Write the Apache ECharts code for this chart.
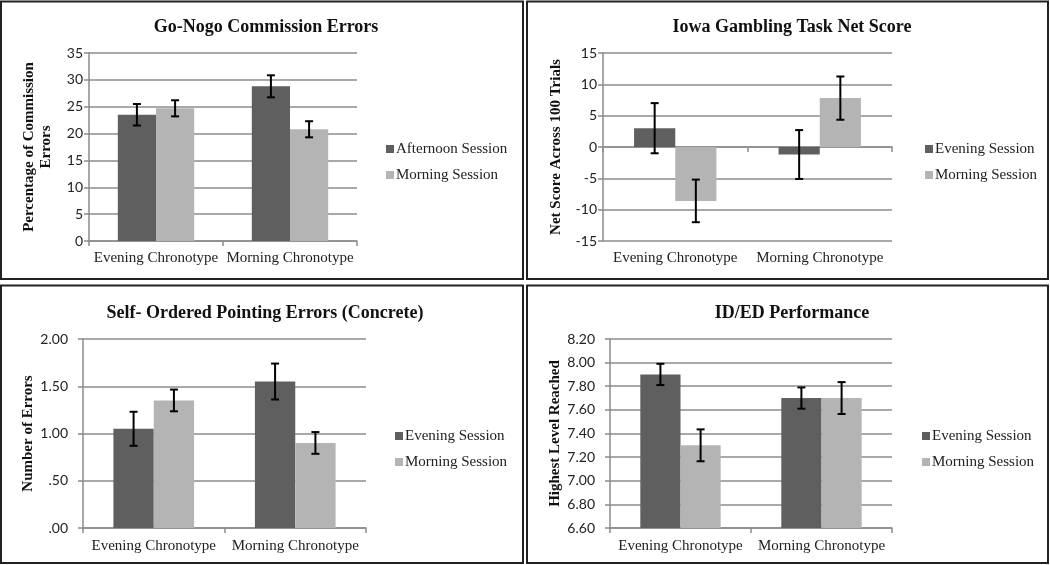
<!DOCTYPE html>
<html>
<head>
<meta charset="utf-8">
<script src="https://cdn.jsdelivr.net/npm/echarts@6/dist/echarts.min.js"></script>
<style>
html,body{margin:0;padding:0;background:#fff;}
#chart{width:1050px;height:565px;}
</style>
</head>
<body>
<div id="chart"></div>
<script>
// ---------- data ----------
const categories = ['Evening Chronotype', 'Morning Chronotype'];

const goNogoTitle = 'Go-Nogo Commission Errors';
const goNogoSeriesNames = ['Afternoon Session', 'Morning Session'];
const goNogoAfternoon = [23.5, 28.8];
const goNogoMorning = [24.7, 20.8];
const goNogoAfternoonErr = [2.0, 2.05];
const goNogoMorningErr = [1.5, 1.5];
const goNogoTicks = [0, 35, 5];

const iowaTitle = 'Iowa Gambling Task Net Score';
const iowaSeriesNames = ['Evening Session', 'Morning Session'];
const iowaEvening = [3.0, -1.2];
const iowaMorning = [-8.6, 7.8];
const iowaEveningErr = [4.0, 3.9];
const iowaMorningErr = [3.4, 3.45];
const iowaTicks = [-15, 15, 5];

const sopTitle = 'Self- Ordered Pointing Errors (Concrete)';
const sopSeriesNames = ['Evening Session', 'Morning Session'];
const sopEvening = [1.05, 1.55];
const sopMorning = [1.35, 0.90];
const sopEveningErr = [0.18, 0.19];
const sopMorningErr = [0.115, 0.115];
const sopTicks = [0, 2, 0.5];

const idedTitle = 'ID/ED Performance';
const idedSeriesNames = ['Evening Session', 'Morning Session'];
const idedEvening = [7.90, 7.70];
const idedMorning = [7.30, 7.70];
const idedEveningErr = [0.09, 0.09];
const idedMorningErr = [0.135, 0.135];
const idedTicks = [6.6, 8.2, 0.2];

// ---------- layout / style ----------
const DARK = '#5f5f5f', LIGHT = '#b4b4b4', GRID = '#8c8c8c';
const SERIF = '"Liberation Serif", "Times New Roman", serif';
const SANS = 'Lato, "Open Sans", sans-serif';
const GAP = 0.43;

const panels = [
  {title: goNogoTitle, names: goNogoSeriesNames, a: goNogoAfternoon, b: goNogoMorning, ea: goNogoAfternoonErr, eb: goNogoMorningErr, ticks: goNogoTicks,
   yName: 'Percentage of Commission\nErrors', nameGap: 34, labelMargin: 6, fmt: v => String(v),
   grid: {left: 89, top: 53, width: 268, height: 188}, titleX: 261, titleTop: 13, legend: {left: 381, top: 135}, xMargin: 10, split: false},
  {title: iowaTitle, names: iowaSeriesNames, a: iowaEvening, b: iowaMorning, ea: iowaEveningErr, eb: iowaMorningErr, ticks: iowaTicks,
   yName: 'Net Score Across 100 Trials', nameGap: 38, labelMargin: 6, fmt: v => String(v),
   grid: {left: 603, top: 53, width: 289, height: 188}, titleX: 787, titleTop: 13, legend: {left: 920, top: 135}, xMargin: 10, split: true},
  {title: sopTitle, names: sopSeriesNames, a: sopEvening, b: sopMorning, ea: sopEveningErr, eb: sopMorningErr, ticks: sopTicks,
   yName: 'Number of Errors', nameGap: 45, labelMargin: 15, fmt: v => { const s = v.toFixed(2); return v < 1 ? s.slice(1) : s; },
   grid: {left: 83, top: 339, width: 283, height: 189}, titleX: 260, titleTop: 299, legend: {left: 390, top: 422}, xMargin: 11, split: false},
  {title: idedTitle, names: idedSeriesNames, a: idedEvening, b: idedMorning, ea: idedEveningErr, eb: idedMorningErr, ticks: idedTicks,
   yName: 'Highest Level Reached', nameGap: 45, labelMargin: 15, fmt: v => v.toFixed(2),
   grid: {left: 610, top: 339, width: 282, height: 189}, titleX: 787, titleTop: 299, legend: {left: 917, top: 422}, xMargin: 11, split: false}
];

const option = {
  animation: false,
  backgroundColor: '#fff',
  title: [], grid: [], xAxis: [], yAxis: [], legend: [], series: [],
  graphic: [
    {type: 'rect', shape: {x: 1, y: 1.5, width: 522, height: 277.5}, style: {fill: 'none', stroke: '#222', lineWidth: 2}},
    {type: 'rect', shape: {x: 527, y: 1.5, width: 521, height: 277.5}, style: {fill: 'none', stroke: '#222', lineWidth: 2}},
    {type: 'rect', shape: {x: 1, y: 285.5, width: 522, height: 277.5}, style: {fill: 'none', stroke: '#222', lineWidth: 2}},
    {type: 'rect', shape: {x: 527, y: 285.5, width: 521, height: 277.5}, style: {fill: 'none', stroke: '#222', lineWidth: 2}}
  ]
};

function gi_x(gi) {
  // x-axis index for the main axis of grid gi (panel 2 adds an extra label axis)
  let idx = 0;
  for (let k = 0; k < gi; k++) idx += panels[k].split ? 2 : 1;
  return idx;
}

function errSeries(xAxisIndex, yAxisIndex, side, vals, errs) {
  return {
    type: 'custom', xAxisIndex, yAxisIndex, z: 10, silent: true,
    data: vals.map((v, i) => [i, v - errs[i], v + errs[i]]),
    encode: {x: 0, y: [1, 2]},
    renderItem: function (params, api) {
      const band = api.size([1, 0])[0];
      const off = side * band * (1 - GAP) / 4;
      const lo = api.coord([api.value(0), api.value(1)]);
      const hi = api.coord([api.value(0), api.value(2)]);
      const x = lo[0] + off, cap = 4;
      const st = {stroke: '#000', lineWidth: 2};
      return {type: 'group', children: [
        {type: 'line', shape: {x1: x, y1: hi[1], x2: x, y2: lo[1]}, style: st},
        {type: 'line', shape: {x1: x - cap, y1: hi[1], x2: x + cap, y2: hi[1]}, style: st},
        {type: 'line', shape: {x1: x - cap, y1: lo[1], x2: x + cap, y2: lo[1]}, style: st}
      ]};
    }
  };
}

panels.forEach((p, gi) => {
  option.title.push({text: p.title, left: p.titleX, top: p.titleTop, textAlign: 'center',
    textStyle: {fontFamily: SERIF, fontWeight: 'bold', fontSize: 18, color: '#111'}});
  option.grid.push(Object.assign({}, p.grid));
  const axisLine = {show: true, lineStyle: {color: GRID, width: 1.5}};
  const mainX = gi_x(gi);
  const xLabel = {interval: 0, margin: p.xMargin, fontFamily: SERIF, fontSize: 15, color: '#222'};
  option.xAxis.push({
    type: 'category', gridIndex: gi, data: categories,
    axisLine: Object.assign({onZero: p.split}, axisLine),
    axisTick: {show: true, length: 5, lineStyle: {color: GRID, width: 1.5}},
    axisLabel: Object.assign({show: !p.split}, xLabel)
  });
  if (p.split) {
    option.xAxis.push({
      type: 'category', gridIndex: gi, data: categories, position: 'bottom',
      axisLine: {show: false, onZero: false}, axisTick: {show: false},
      axisLabel: Object.assign({show: true}, xLabel)
    });
  }
  option.yAxis.push({
    type: 'value', gridIndex: gi, min: p.ticks[0], max: p.ticks[1], interval: p.ticks[2],
    name: p.yName, nameLocation: 'middle', nameGap: p.nameGap, nameRotate: 90,
    nameTextStyle: {fontFamily: SERIF, fontWeight: 'bold', fontSize: 15, color: '#111', lineHeight: 17},
    axisLine: axisLine,
    axisTick: {show: true, length: 5, lineStyle: {color: GRID, width: 1.5}},
    axisLabel: {margin: p.labelMargin, fontFamily: SANS, fontSize: 14, color: '#222', formatter: p.fmt},
    splitLine: {show: true, lineStyle: {color: GRID, width: 1.5}}
  });
  option.legend.push({
    orient: 'vertical', left: p.legend.left, top: p.legend.top,
    icon: 'rect', itemWidth: 8, itemHeight: 8, itemGap: 8, selectedMode: false,
    data: p.names.map((n, k) => ({name: n, itemStyle: {color: k === 0 ? DARK : LIGHT}})),
    textStyle: {fontFamily: SERIF, fontSize: 15, color: '#222', lineHeight: 18, padding: [0, 0, 0, -3]}
  });
  option.series.push(
    {type: 'bar', name: p.names[0], xAxisIndex: mainX, yAxisIndex: gi, data: p.a, itemStyle: {color: DARK},
     barGap: '0%', barCategoryGap: (GAP * 100) + '%'},
    {type: 'bar', name: p.names[1], xAxisIndex: mainX, yAxisIndex: gi, data: p.b, itemStyle: {color: LIGHT},
     barGap: '0%', barCategoryGap: (GAP * 100) + '%'},
    errSeries(mainX, gi, -1, p.a, p.ea),
    errSeries(mainX, gi, 1, p.b, p.eb)
  );
});

const chart = echarts.init(document.getElementById('chart'), null, {renderer: 'canvas'});
chart.setOption(option);
</script>
</body>
</html>
